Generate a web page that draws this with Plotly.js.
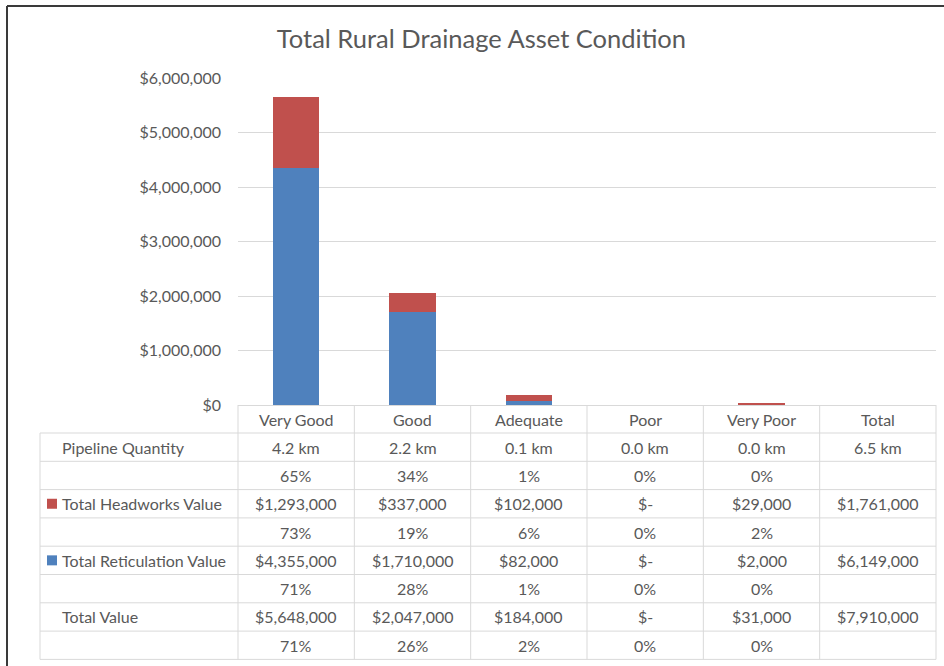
<!DOCTYPE html>
<html><head><meta charset="utf-8">
<script src="https://cdn.plot.ly/plotly-3.0.1.min.js"></script>
<style>html,body{margin:0;padding:0;background:#fff}#chart{width:944px;height:666px}</style>
</head><body><div id="chart"></div>
<script>
// ---- data ----
const categories = ["Very Good", "Good", "Adequate", "Poor", "Very Poor", "Total"];
const seriesNames = ["Total Reticulation Value", "Total Headworks Value"];
const reticulationValue = [4355000, 1710000, 82000, 0, 2000];
const headworksValue = [1293000, 337000, 102000, 0, 29000];
const pipelineKm = [4.2, 2.2, 0.1, 0.0, 0.0];
const pipelineTotalKm = 6.5;
const pipelinePct = [65, 34, 1, 0, 0];
const headworksPct = [73, 19, 6, 0, 2];
const reticulationPct = [71, 28, 1, 0, 0];
const totalValue = [5648000, 2047000, 184000, 0, 31000];
const totalPct = [71, 26, 2, 0, 0];
const headworksTotal = 1761000;
const reticulationTotal = 6149000;
const grandTotal = 7910000;
const yTickValues = [0, 1000000, 2000000, 3000000, 4000000, 5000000, 6000000];

// ---- styling ----
const BLUE = "#4F81BD", RED = "#C0504D", TXT = "#595959", GRID = "#D9D9D9";
const FONT = "Lato, 'Open Sans', sans-serif";
const FS = 16;

// plot area in pixels
const L = 238, R = 936, T = 78, B = 405;
const pw = R - L, ph = B - T;
const px = X => (X - L) / pw;
const py = Y => (B - Y) / ph;

const money = v => v === 0 ? "$-" : "$" + v.toLocaleString("en-US");
const pct = v => v + "%";

const rows = [
  {label: "Pipeline Quantity", cells: pipelineKm.map(v => v.toFixed(1) + " km").concat([pipelineTotalKm.toFixed(1) + " km"])},
  {label: "", cells: pipelinePct.map(pct).concat([""])},
  {label: seriesNames[1], color: RED, cells: headworksValue.map(money).concat([money(headworksTotal)])},
  {label: "", cells: headworksPct.map(pct).concat([""])},
  {label: seriesNames[0], color: BLUE, cells: reticulationValue.map(money).concat([money(reticulationTotal)])},
  {label: "", cells: reticulationPct.map(pct).concat([""])},
  {label: "Total Value", cells: totalValue.map(money).concat([money(grandTotal)])},
  {label: "", cells: totalPct.map(pct).concat([""])}
];

const headerBottom = 433, rowH = 28.3, tableLeft = 40;
const shapes = [];
const annotations = [];
const line = (x0, y0, x1, y1, color, w) => shapes.push({type: "line", xref: "paper", yref: "paper",
  x0: x0, y0: y0, x1: x1, y1: y1, line: {color: color || GRID, width: w || 1}, layer: "above"});

// horizontal table lines
for (let i = 0; i <= rows.length; i++) {
  const Y = headerBottom + i * rowH;
  line(px(tableLeft), py(Y), 1, py(Y));
}
// vertical table lines
for (let k = 0; k <= categories.length; k++) {
  const xp = k / categories.length;
  line(xp, 0, xp, py(headerBottom + rows.length * rowH));
}
line(px(tableLeft), py(headerBottom), px(tableLeft), py(headerBottom + rows.length * rowH));

// table texts
rows.forEach((r, i) => {
  const yc = py(headerBottom + i * rowH + rowH / 2);
  if (r.label) {
    annotations.push({xref: "paper", yref: "paper", x: px(60), y: yc, xanchor: "left", yanchor: "middle",
      text: r.label, showarrow: false, font: {family: FONT, size: FS, color: TXT}});
  }
  if (r.color) {
    shapes.push({type: "rect", xref: "paper", yref: "paper", x0: px(47), x1: px(57),
      y0: yc - 5 / ph, y1: yc + 5 / ph, fillcolor: r.color, line: {width: 0}});
  }
  r.cells.forEach((c, j) => {
    if (c === "") return;
    annotations.push({xref: "x", yref: "paper", x: categories[j], y: yc, xanchor: "center", yanchor: "middle",
      text: c, showarrow: false, font: {family: FONT, size: FS, color: TXT}});
  });
});
// header row (category names)
categories.forEach(c => {
  annotations.push({xref: "x", yref: "paper", x: c, y: py((B + headerBottom) / 2), xanchor: "center", yanchor: "middle",
    text: c, showarrow: false, font: {family: FONT, size: FS, color: TXT}});
});

// outer frame (top and left edges visible)
line(px(7), py(6), px(944), py(6), "#3a3a3a", 2);
line(px(7), py(6), px(7), py(666), "#3a3a3a", 2);

const traces = [
  {type: "bar", name: seriesNames[0], x: categories.slice(0, 5), y: reticulationValue, marker: {color: BLUE}},
  {type: "bar", name: seriesNames[1], x: categories.slice(0, 5), y: headworksValue, marker: {color: RED}}
];

const layout = {
  width: 944, height: 666,
  margin: {l: L, r: 944 - R, t: T, b: 666 - B, pad: 0},
  paper_bgcolor: "#fff", plot_bgcolor: "#fff",
  barmode: "stack", bargap: 0.6, showlegend: false, hovermode: false,
  font: {family: FONT, color: TXT},
  title: {text: "Total Rural Drainage Asset Condition", x: 0.51, xanchor: "center", y: 1 - 39 / 666, yanchor: "middle",
    font: {family: FONT, size: 25.5, color: TXT}},
  xaxis: {type: "category", categoryorder: "array", categoryarray: categories, range: [-0.5, 5.5],
    showticklabels: false, showgrid: false, zeroline: false, showline: true, linecolor: GRID, linewidth: 1, ticks: "", fixedrange: true},
  yaxis: {range: [0, 6000000], tickvals: yTickValues, tickformat: "$,.0f", showgrid: true, gridcolor: GRID, gridwidth: 1,
    zeroline: false, showline: false, ticks: "", ticklabelstandoff: 16, tickfont: {family: FONT, size: FS, color: TXT}, fixedrange: true},
  shapes: shapes,
  annotations: annotations
};

Plotly.newPlot("chart", traces, layout, {displayModeBar: false, staticPlot: true});
</script>
</body></html>
